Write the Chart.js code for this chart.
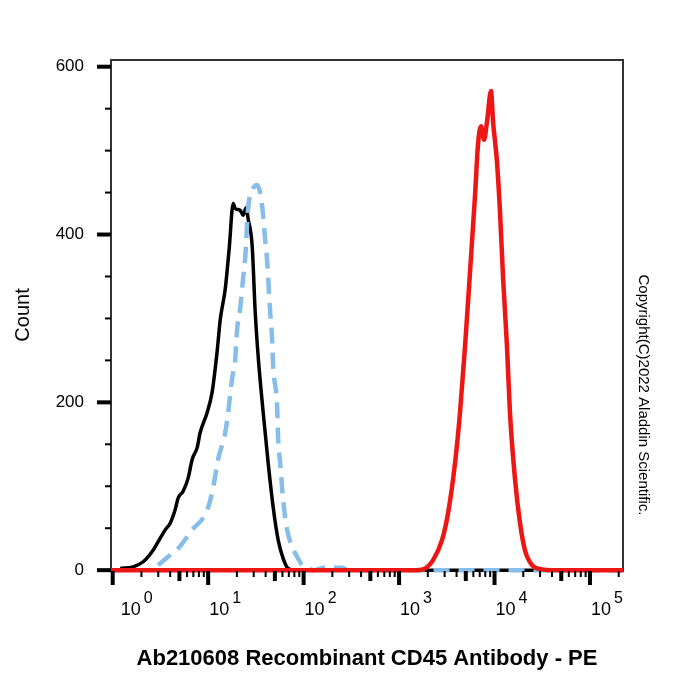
<!DOCTYPE html>
<html lang="en">
<head>
<meta charset="UTF-8">
<title>Ab210608 Recombinant CD45 Antibody - PE</title>
<script src="https://cdn.jsdelivr.net/npm/chart.js"></script>
<style>
  body { margin: 0; background: #fff; }
  canvas { display: block; }
</style>
</head>
<body>
<canvas id="histChart" width="700" height="700"></canvas>
<script>
const blackX = [1.2, 1.64, 2.09, 2.66, 3.14, 3.55, 4.0, 4.51, 4.85, 5.47, 6.18, 6.8, 7.67, 8.25, 9.77, 11.0, 12.4, 13.4, 15.1, 16.6, 18.3, 19.2, 21.6, 23.2, 25.0, 26.2, 28.9, 31.1, 33.4, 37.7, 42.5, 48.0, 54.1, 61.0, 68.8, 80, 221700];
const blackY = [2, 4, 10, 24, 38, 48, 56, 72, 86, 94, 110, 132, 146, 164, 188, 212, 260, 299, 335, 383, 437, 431, 429, 423, 432, 419, 387, 308, 255, 188, 128, 75, 36, 14, 2, 0, 0];

const blueX = [3.0, 4.2, 4.7, 6.8, 9.8, 11.3, 12.7, 15.1, 16.2, 17.8, 19.2, 20.1, 21.6, 23.2, 24.4, 26.2, 29.6, 32.6, 36.7, 39.5, 41.5, 44.6, 46.8, 48.0, 52.8, 54.1, 56.8, 61.0, 67.2, 75.8, 85.5, 96.4, 111, 130, 165, 255, 290, 221700];
const blueY = [6, 20, 24, 48, 72, 99, 132, 164, 188, 228, 251, 287, 311, 347, 371, 431, 455, 459, 435, 395, 368, 308, 275, 243, 195, 156, 128, 84, 48, 28, 16, 6, 2, 0, 3, 3, 0, 0];

const redX = [0.96, 1500, 1783, 2270, 2820, 3260, 3860, 4350, 4910, 5540, 6250, 6710, 7220, 7770, 8350, 9190, 9640, 10600, 11400, 12300, 13500, 14500, 16400, 18500, 20800, 24700, 31400, 40000, 221700];
const redY = [0, 0, 1, 12, 36, 68, 128, 188, 267, 356, 447, 507, 529, 513, 535, 571, 535, 487, 428, 347, 267, 188, 108, 56, 24, 6, 1, 0, 0];

// axis ticks
const xDecades = [1, 10, 100, 1000, 10000, 100000];
const xDecadeExp = ['0', '1', '2', '3', '4', '5'];
const yTicks = [0, 200, 400, 600];
const yTickLabels = ['0', '200', '400', '600'];
const yMinorStep = 50;

const xTitle = 'Ab210608 Recombinant CD45 Antibody - PE';
const yTitle = 'Count';
const copyright = 'Copyright(C)2022 Aladdin Scientific.';

const FONT = '"Liberation Sans", Arial, sans-serif';

function toPoints(xs, ys) {
    return xs.map((x, i) => ({ x: x, y: ys[i] }));
}

// FlowJo style frame, ticks and labels, placed with the chart's own scales
const flowAxes = {
    id: 'flowAxes',
    beforeDatasetsDraw(chart) {
        const { ctx, chartArea: a } = chart;
        ctx.save();
        ctx.strokeStyle = '#333';
        ctx.lineWidth = 2;
        ctx.strokeRect(a.left, a.top, a.right - a.left, a.bottom - a.top);
        ctx.restore();
    },
    afterDraw(chart) {
        const { ctx, chartArea: a, scales } = chart;
        const xs = scales.x, ys = scales.y;
        ctx.save();
        ctx.fillStyle = '#000';

        // y ticks
        for (let v = yTicks[0]; v <= yTicks[yTicks.length - 1]; v += yMinorStep) {
            const py = ys.getPixelForValue(v);
            const major = yTicks.includes(v);
            const len = major ? 14 : 6;
            const w = major ? 4 : 2;
            ctx.fillRect(a.left - len, py - w / 2, len, w);
        }
        ctx.font = '17px ' + FONT;
        ctx.textAlign = 'right';
        ctx.textBaseline = 'middle';
        yTicks.forEach((v, i) => {
            ctx.fillText(yTickLabels[i], 84, ys.getPixelForValue(v));
        });

        // x ticks (log decades with 2..9 minors)
        xDecades.forEach(d => {
            for (let m = 1; m <= 9; m++) {
                const v = d * m;
                if (v > xs.max) break;
                const px = xs.getPixelForValue(v);
                let len = 6, w = 2;
                if (m === 1) { len = 14; w = 4; }
                else if (m === 5) { len = 10; w = 4; }
                ctx.fillRect(px - w / 2, a.bottom, w, len);
            }
        });
        ctx.textAlign = 'left';
        ctx.textBaseline = 'alphabetic';
        xDecades.forEach((d, i) => {
            // the first label sits a little further right of its tick
            const px = xs.getPixelForValue(d) + (i === 0 ? 8 : 1);
            ctx.font = '18px ' + FONT;
            ctx.fillText('10', px, 615);
            const w = ctx.measureText('10').width;
            ctx.font = '16px ' + FONT;
            ctx.fillText(xDecadeExp[i], px + w + 3, 603);
        });

        // titles
        ctx.font = 'bold 22px ' + FONT;
        ctx.textAlign = 'center';
        ctx.fillText(xTitle, 367, 665);

        ctx.save();
        ctx.translate(23, 315);
        ctx.rotate(-Math.PI / 2);
        ctx.font = '20px ' + FONT;
        ctx.textBaseline = 'middle';
        ctx.fillText(yTitle, 0, 0);
        ctx.restore();

        ctx.save();
        ctx.translate(643, 395);
        ctx.rotate(Math.PI / 2);
        ctx.font = '15px ' + FONT;
        ctx.textBaseline = 'middle';
        ctx.fillText(copyright, 0, 0);
        ctx.restore();

        ctx.restore();
    }
};

const common = { pointRadius: 0, fill: false, cubicInterpolationMode: 'monotone', clip: 4 };

new Chart(document.getElementById('histChart').getContext('2d'), {
    type: 'line',
    data: {
        datasets: [
            Object.assign({ label: 'CD45 - PE', data: toPoints(redX, redY), borderColor: '#ee1515', borderWidth: 4.5, order: 0 }, common),
            Object.assign({ label: 'Control 2', data: toPoints(blueX, blueY), borderColor: '#86bde9', borderWidth: 4.5, borderDash: [16, 9], order: 1 }, common),
            Object.assign({ label: 'Control 1', data: toPoints(blackX, blackY), borderColor: '#000', borderWidth: 3.5, order: 2 }, common)
        ]
    },
    options: {
        responsive: false,
        animation: false,
        layout: { padding: { left: 111, right: 77, top: 60, bottom: 129 } },
        scales: {
            x: { type: 'logarithmic', min: 0.96, max: 221700, display: false },
            y: { type: 'linear', min: -1, max: 608, display: false }
        },
        plugins: {
            legend: { display: false },
            tooltip: { enabled: false }
        }
    },
    plugins: [flowAxes]
});
</script>
</body>
</html>
